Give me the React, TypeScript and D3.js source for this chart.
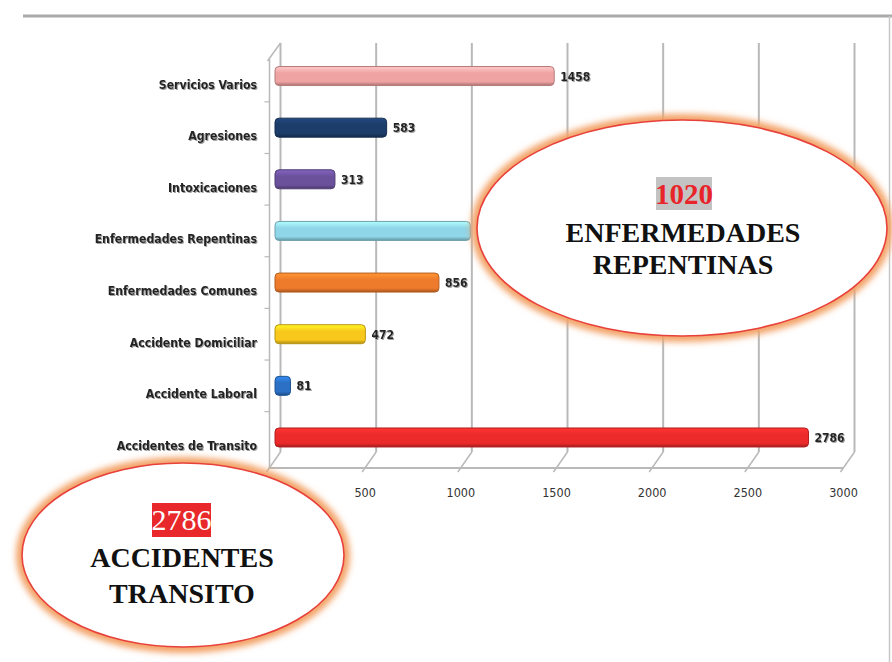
import React from "react";
import * as d3 from "d3";

const categories = [
  "Servicios Varios",
  "Agresiones",
  "Intoxicaciones",
  "Enfermedades Repentinas",
  "Enfermedades Comunes",
  "Accidente Domiciliar",
  "Accidente Laboral",
  "Accidentes de Transito",
];
const values = [1458, 583, 313, 1020, 856, 472, 81, 2786];
const barColors = ["#f0a3a3", "#1c3c69", "#6b519c", "#8fd6e8", "#ee7a2b", "#f8c81c", "#2b70c4", "#ec2a2a"];
const ticks = [500, 1000, 1500, 2000, 2500, 3000];
const gridTicks = [0, 500, 1000, 1500, 2000, 2500, 3000];

const W = 892;
const H = 662;
const DX = 11;
const DY = -16;
const FLOOR_Y = 468;
const TOP_Y = 59;

const NARROW = "'Liberation Sans Narrow', 'DejaVu Sans Condensed', 'Arial Narrow', sans-serif";
const SERIF = "'Liberation Serif', 'Times New Roman', serif";

export default function App() {
  const xFront = d3.scaleLinear().domain([0, 3000]).range([269.5, 843.5]);
  const xBar = d3.scaleLinear().domain([0, 3000]).range([275, 849.5]);
  const y = d3.scaleBand<string>().domain(categories).range([50.2, 463.3]).padding(0);
  const barH = 19;
  const grid = "#b9b9b9";

  return (
    <svg width={W} height={H} style={{ position: "absolute", left: 0, top: 0, background: "#fff" }}>
      <defs>
        {barColors.map((c, i) => {
          const col = d3.color(c)!;
          return (
            <linearGradient key={i} id={`g${i}`} x1="0" y1="0" x2="0" y2="1">
              <stop offset="0%" stopColor={col.brighter(0.6).formatHex()} />
              <stop offset="35%" stopColor={c} />
              <stop offset="80%" stopColor={c} />
              <stop offset="100%" stopColor={col.darker(1.0).formatHex()} />
            </linearGradient>
          );
        })}
        <filter id="glow" x="-20%" y="-30%" width="140%" height="160%">
          <feGaussianBlur stdDeviation="3" />
        </filter>
        <filter id="tshadow" x="-5%" y="-20%" width="110%" height="140%">
          <feDropShadow dx="1" dy="1" stdDeviation="0.6" floodColor="#888" floodOpacity="0.8" />
        </filter>
      </defs>

      {/* frame */}
      <line x1={23} y1={16} x2={W} y2={16} stroke="#aaa" strokeWidth={3} />
      <line x1={889.5} y1={16} x2={889.5} y2={H} stroke="#c8c8c8" strokeWidth={1.5} />

      {/* back gridlines */}
      {gridTicks.map((t) => (
        <line key={`bg${t}`} x1={xFront(t) + DX} x2={xFront(t) + DX} y1={TOP_Y + DY} y2={FLOOR_Y + DY} stroke={grid} strokeWidth={2} />
      ))}
      {/* floor diagonals */}
      {gridTicks.map((t) => (
        <line key={`dg${t}`} x1={xFront(t) + DX} y1={FLOOR_Y + DY} x2={xFront(t) - 3} y2={FLOOR_Y + 4} stroke={grid} strokeWidth={1.5} />
      ))}
      {/* front floor line */}
      <line x1={xFront(0) - 1} x2={xFront(3000)} y1={FLOOR_Y} y2={FLOOR_Y} stroke={grid} strokeWidth={2} />
      {/* left front axis */}
      <line x1={xFront(0)} x2={xFront(0)} y1={TOP_Y} y2={FLOOR_Y} stroke={grid} strokeWidth={1.5} />
      <line x1={xFront(0) - 2} y1={TOP_Y + 2} x2={xFront(0) + DX} y2={TOP_Y + DY} stroke={grid} strokeWidth={1.5} />
      {categories.slice(1).map((c) => (
        <line key={`lt${c}`} x1={xFront(0) - 5} x2={xFront(0)} y1={y(c)!} y2={y(c)!} stroke={grid} strokeWidth={1.2} />
      ))}

      {/* bars */}
      {categories.map((c, i) => {
        const cy = y(c)! + y.bandwidth() / 2;
        const col = d3.color(barColors[i])!;
        return (
          <g key={c}>
            <rect
              x={xBar(0)}
              y={cy - barH / 2}
              width={xBar(values[i]) - xBar(0)}
              height={barH}
              rx={4}
              fill={`url(#g${i})`}
              stroke={col.darker(0.8).formatHex()}
              strokeWidth={1}
            />
            <text
              x={xBar(values[i]) + 6}
              y={cy + 4.5}
              fontFamily={NARROW}
              fontWeight="bold"
              fontSize={12}
              fill="#222"
              filter="url(#tshadow)"
            >
              {values[i]}
            </text>
            <text
              x={257}
              y={cy + 12.5}
              textAnchor="end"
              fontFamily={NARROW}
              fontWeight="bold"
              fontSize={12.2}
              fill="#222"
              filter="url(#tshadow)"
            >
              {c}
            </text>
          </g>
        );
      })}

      {/* x tick labels */}
      {ticks.map((t) => (
        <text key={`tl${t}`} x={xFront(t)} y={497} textAnchor="middle" fontFamily={NARROW} fontSize={12.5} fill="#333">
          {t}
        </text>
      ))}

      {/* callout 1 */}
      <g>
        <ellipse cx={682} cy={228} rx={205} ry={108} fill="none" stroke="#f3a266" strokeWidth={12} filter="url(#glow)" />
        <ellipse cx={682} cy={228} rx={205} ry={108} fill="#fff" stroke="#e8403a" strokeWidth={1.6} />
        <rect x={656} y={177} width={56} height={33} fill="#c3c3c3" />
        <text x={684} y={204} textAnchor="middle" fontFamily={SERIF} fontWeight="bold" fontSize={29} fill="#e8242a">
          1020
        </text>
        <text x={683} y={242} textAnchor="middle" fontFamily={SERIF} fontWeight="bold" fontSize={28} fill="#111">
          ENFERMEDADES
        </text>
        <text x={683} y={274} textAnchor="middle" fontFamily={SERIF} fontWeight="bold" fontSize={28} fill="#111">
          REPENTINAS
        </text>
      </g>

      {/* callout 2 */}
      <g>
        <ellipse cx={183} cy={555} rx={161} ry={92} fill="none" stroke="#f3a266" strokeWidth={12} filter="url(#glow)" />
        <ellipse cx={183} cy={555} rx={161} ry={92} fill="#fff" stroke="#e8403a" strokeWidth={1.6} />
        <rect x={152} y={503} width={59} height={34} fill="#e8282a" />
        <text x={181.5} y={530} textAnchor="middle" fontFamily={SERIF} fontSize={30} fill="#fff">
          2786
        </text>
        <text x={182} y={567} textAnchor="middle" fontFamily={SERIF} fontWeight="bold" fontSize={28} fill="#111">
          ACCIDENTES
        </text>
        <text x={182} y={603} textAnchor="middle" fontFamily={SERIF} fontWeight="bold" fontSize={28} fill="#111">
          TRANSITO
        </text>
      </g>
    </svg>
  );
}
